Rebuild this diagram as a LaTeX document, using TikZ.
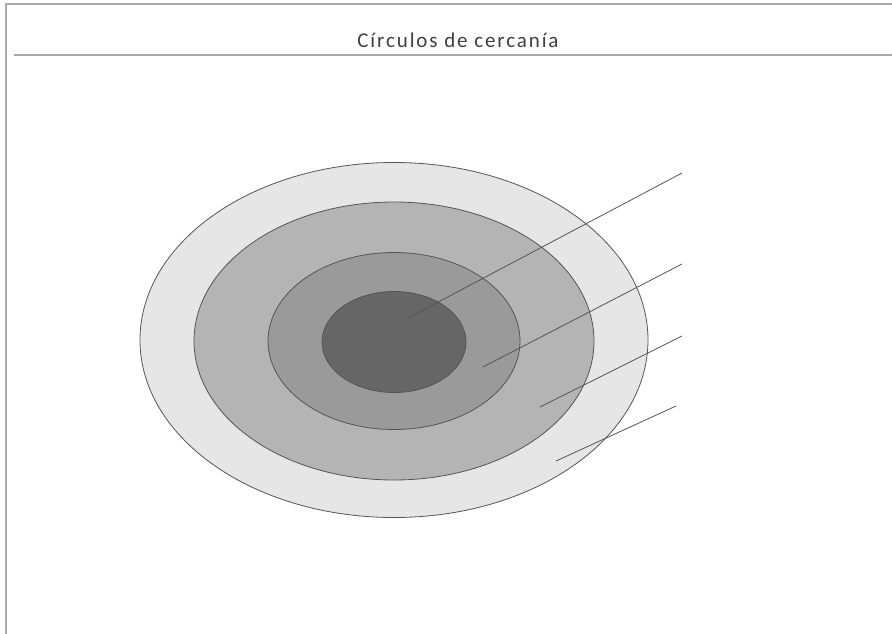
\documentclass[tikz,border=0pt]{standalone}
\usepackage{fontspec}
\setmainfont{Carlito}
\newfontfamily\titlefont[LetterSpace=9]{Carlito}
\usetikzlibrary{shapes.geometric}

\definecolor{ring1}{RGB}{230,230,230}
\definecolor{ring2}{RGB}{180,180,180}
\definecolor{ring3}{RGB}{154,154,154}
\definecolor{ring4}{RGB}{102,102,102}
\definecolor{edgegray}{RGB}{85,85,85}
\definecolor{framegray}{RGB}{170,170,170}

\begin{document}
\begin{tikzpicture}[x=1pt,y=-1pt]
\tikzset{ring/.style={ellipse, draw=edgegray, line width=0.8pt, inner sep=0pt}}
\useasboundingbox (0,0) rectangle (892,634);
\fill[white] (0,0) rectangle (892,634);
% frame and title
\draw[framegray, line width=1.5pt] (6,634) -- (6,4) -- (892,4);
\draw[framegray, line width=1.2pt] (14,55) -- (892,55);
\node[text=black!75, font=\titlefont\fontsize{21}{25}\selectfont] (title) at (458,40) {Círculos de cercanía};
% rings
\node[ring, fill=ring1, minimum width=508pt, minimum height=355pt] (r1) at (394,340) {};
\node[ring, fill=ring2, minimum width=400pt, minimum height=278pt] (r2) at (394,341) {};
\node[ring, fill=ring3, minimum width=252pt, minimum height=177pt] (r3) at (394,341) {};
\node[ring, fill=ring4, minimum width=144pt, minimum height=101pt] (r4) at (394,342) {};
% pointers
\coordinate (p1) at (408,318);
\coordinate (p2) at (483,367);
\coordinate (p3) at (540,407);
\coordinate (p4) at (556,461);
\coordinate (q1) at (682,173);
\coordinate (q2) at (682,264);
\coordinate (q3) at (682,336);
\coordinate (q4) at (676,406);
\draw[-, edgegray, line width=0.8pt] (p1) -- (q1);
\draw[-, edgegray, line width=0.8pt] (p2) -- (q2);
\draw[-, edgegray, line width=0.8pt] (p3) -- (q3);
\draw[-, edgegray, line width=0.8pt] (p4) -- (q4);
\end{tikzpicture}
\end{document}
